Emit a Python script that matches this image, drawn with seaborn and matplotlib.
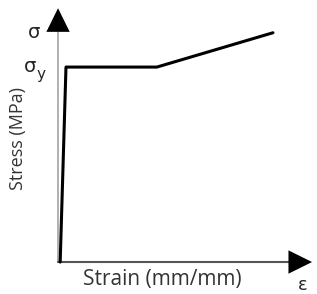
import numpy as np
import pandas as pd
import matplotlib
matplotlib.use("Agg")
import matplotlib.pyplot as plt
import seaborn as sns

sns.set_theme(style="white")
plt.rcParams['font.family'] = ['Open Sans', 'DejaVu Sans']

# stress-strain curve (elastic, yield plateau, hardening)
strain = [0.001, 0.0037, 0.046, 0.1]
stress = [0, 250, 250, 294]
sigma_y = 250

df = pd.DataFrame({"strain": strain, "stress": stress})

fig = plt.figure(figsize=(3.17, 2.94), dpi=100)
ax = fig.add_axes([0, 0, 1, 1])

sns.lineplot(data=df, x="strain", y="stress", color="black", linewidth=2.2,
             sort=False, ax=ax)

ax.set_xlim(-0.027, 0.1205)
ax.set_ylim(-41, 336)
ax.axis('off')

# axes with arrow heads
ax.plot([0, 0], [0, 300], color="#aaaaaa", linewidth=1.3, zorder=1)
ax.plot([0, 0.108], [0, 0], color="#555555", linewidth=1.5, zorder=1)
ax.annotate("", xy=(0, 329), xytext=(0, 299),
            arrowprops=dict(arrowstyle="-|>,head_length=0.85,head_width=0.42",
                            mutation_scale=20, color="black", lw=0))
ax.annotate("", xy=(0.1195, 0), xytext=(0.107, 0),
            arrowprops=dict(arrowstyle="-|>,head_length=0.85,head_width=0.42",
                            mutation_scale=20, color="black", lw=0))

ax.text(-0.011, 294, "σ", fontsize=14, ha="center", va="center",
        family="DejaVu Sans")
ax.text(-0.013, sigma_y + 1, "σ", fontsize=14, ha="center", va="center",
        family="DejaVu Sans")
ax.text(-0.0102, sigma_y - 9, "y", fontsize=11, ha="left", va="center",
        family="DejaVu Sans")
ax.text(0.114, -29, "ε", fontsize=13, ha="center", va="center",
        family="DejaVu Sans")

ax.text(0.0487, -22, "Strain (mm/mm)", fontsize=15, ha="center", va="center",
        color="#333333")
ax.text(-0.0188, 159, "Stress (MPa)", fontsize=13, ha="center", va="center",
        rotation=90, color="#333333")

fig.savefig("out.png", dpi=100)
